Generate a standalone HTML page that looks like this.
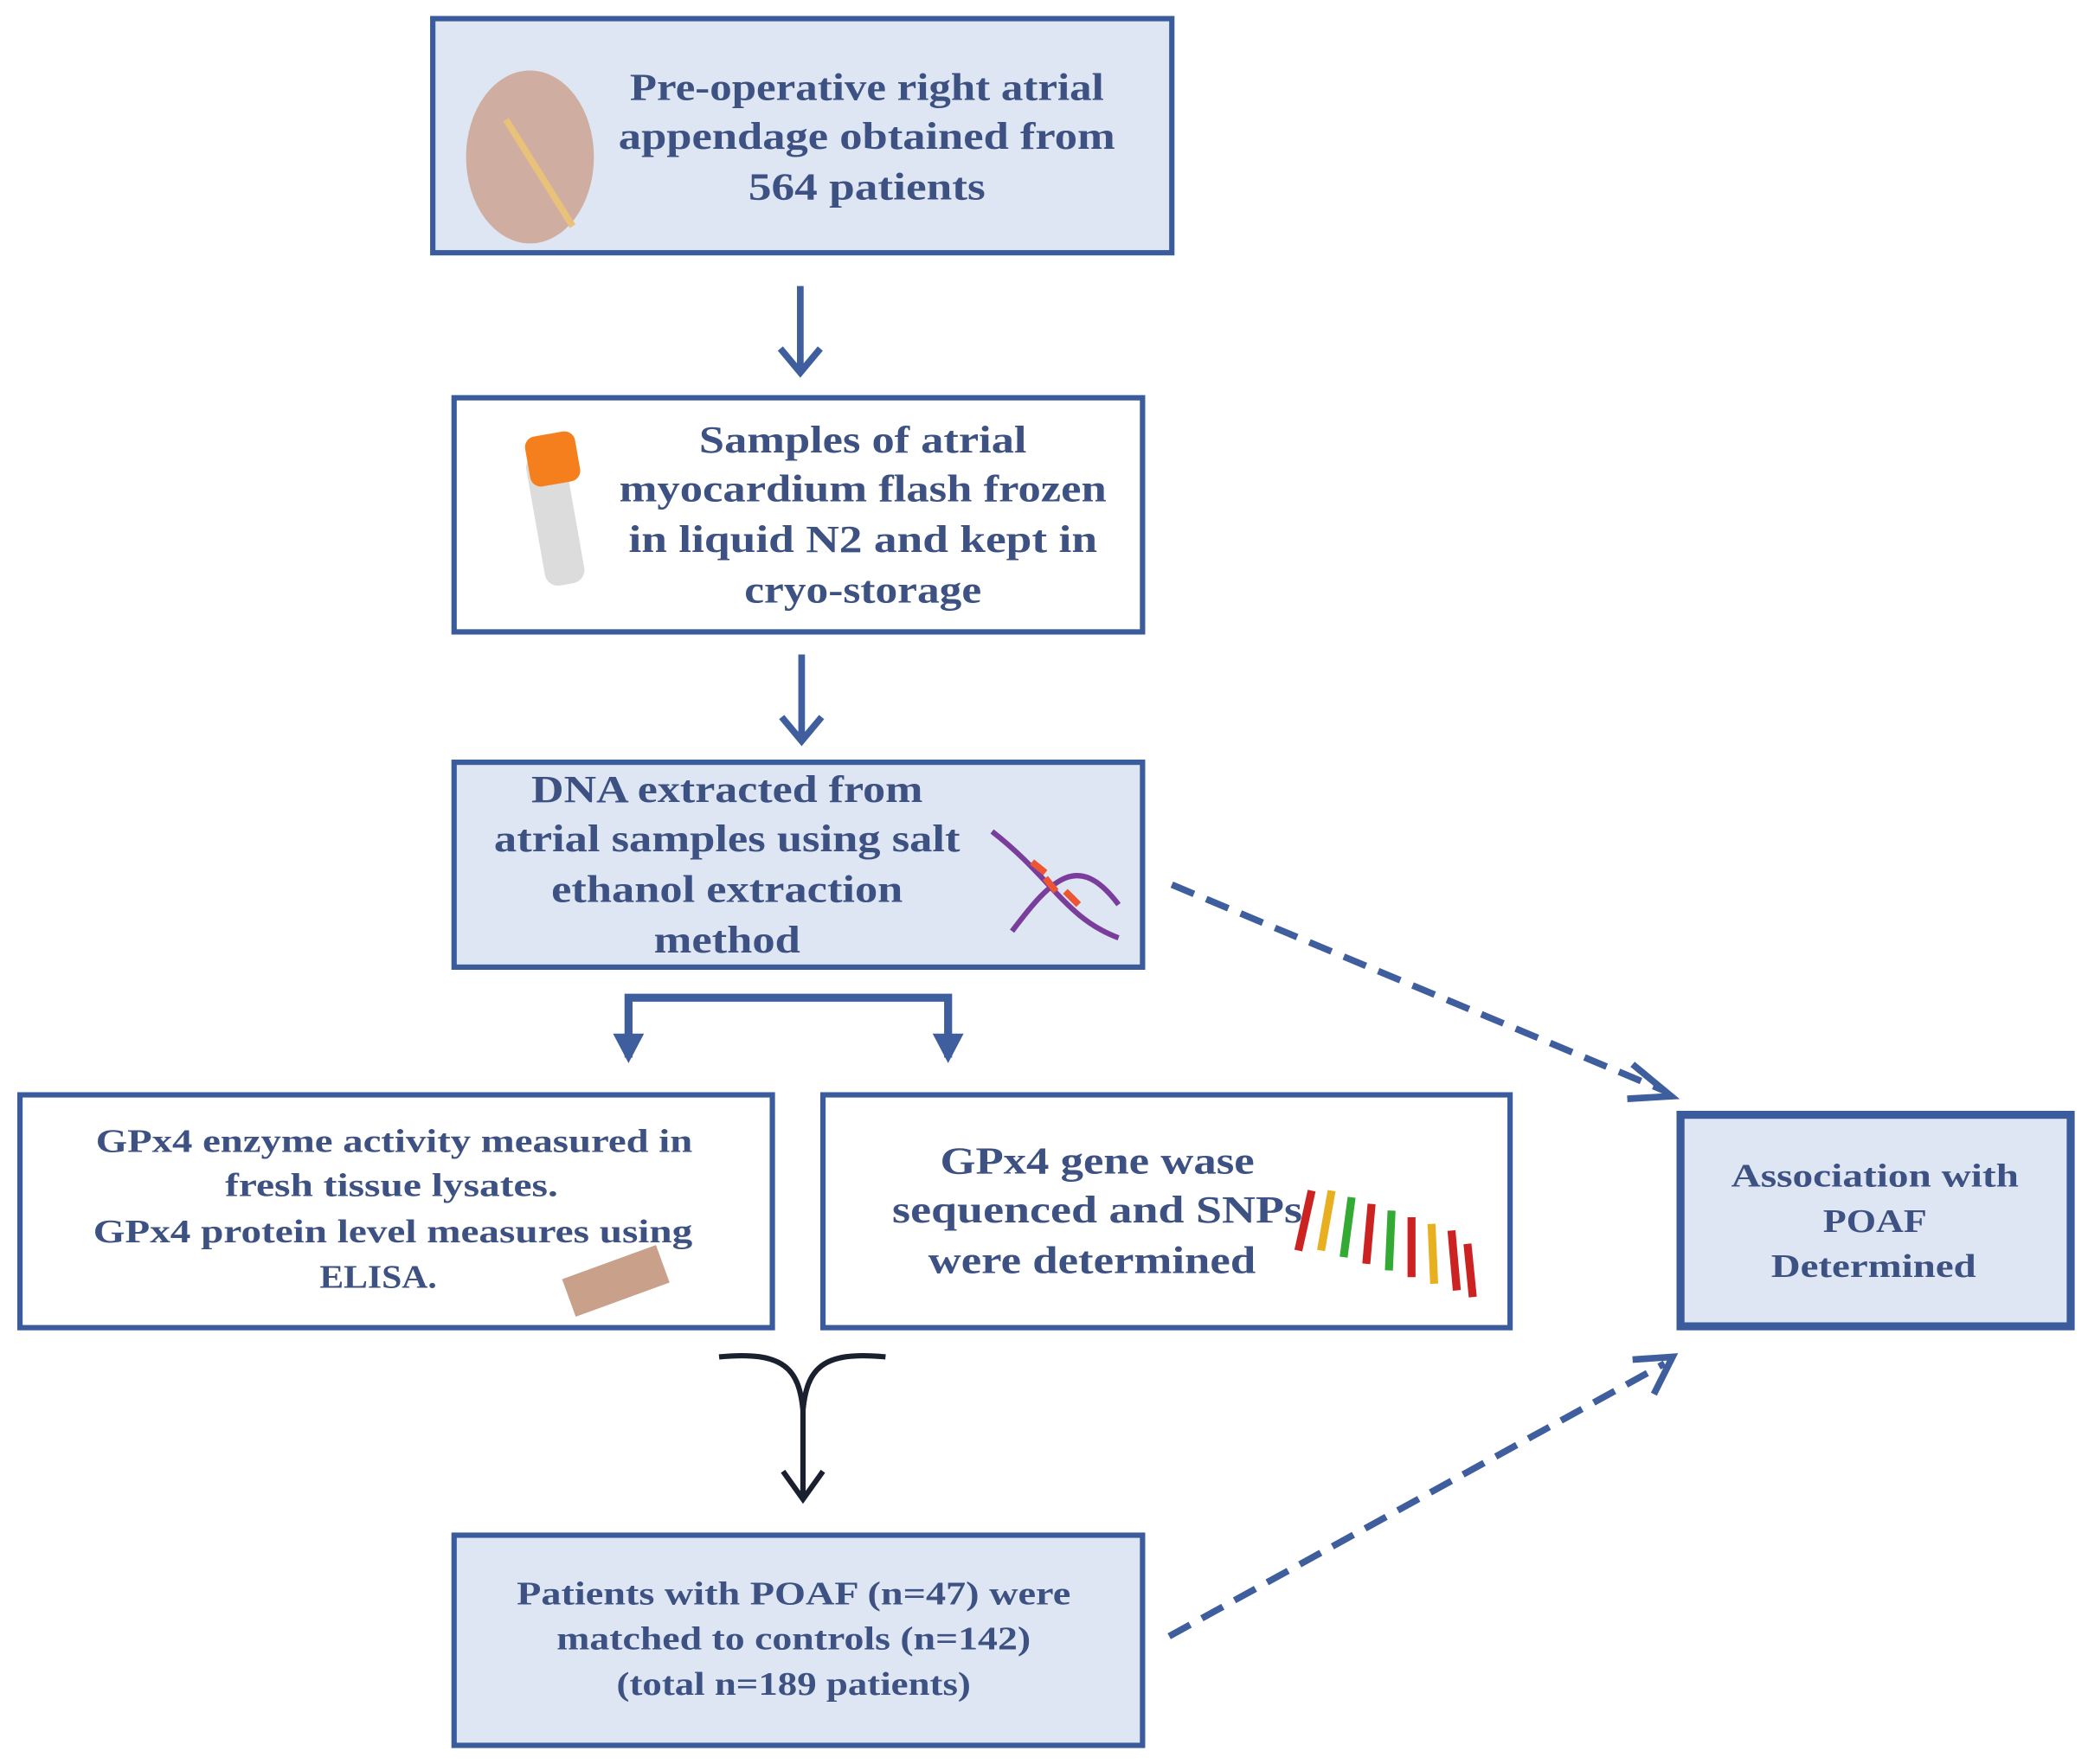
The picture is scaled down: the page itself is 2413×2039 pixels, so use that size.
<!DOCTYPE html>
<html><head><meta charset="utf-8"><style>
html,body{margin:0;padding:0;background:#fff;}
svg{display:block;}
text{font-family:"Liberation Serif",serif;font-weight:bold;fill:#3d5283;}
</style></head><body>
<svg width="2413" height="2039" viewBox="0 0 1568 1326" preserveAspectRatio="none" xmlns="http://www.w3.org/2000/svg">
<g stroke="#3a5b9c" stroke-width="4">
<rect x="325" y="14" width="555" height="176" fill="#dee6f4"/>
<rect x="341" y="299" width="517" height="176" fill="#fff"/>
<rect x="341" y="573" width="517" height="154" fill="#dee6f4"/>
<rect x="15" y="823" width="565" height="175" fill="#fff"/>
<rect x="618" y="823" width="516" height="175" fill="#fff"/>
<rect x="1262" y="838" width="293" height="159" fill="#dee6f4" stroke-width="6"/>
<rect x="341" y="1154" width="517" height="158" fill="#dee6f4"/>
</g>
<!-- icons -->
<ellipse cx="398" cy="118" rx="48" ry="65" fill="#c99a86" opacity="0.75"/>
<path d="M380 90 L430 170" stroke="#e8c27a" stroke-width="5"/>
<rect x="402" y="340" width="30" height="100" rx="10" fill="#dcdcdc" transform="rotate(-10 417 390)"/>
<rect x="396" y="326" width="38" height="38" rx="8" fill="#f57f1c" transform="rotate(-10 415 345)"/>
<path d="M745 625 C790 660 800 690 840 705 M760 700 C790 660 810 640 840 680" stroke="#7a3d9c" stroke-width="4" fill="none"/>
<path d="M775 648 l10 8 M785 660 l8 10 M800 670 l10 10" stroke="#e53" stroke-width="5"/>
<rect x="425" y="948" width="75" height="30" fill="#c9a08a" transform="rotate(-20 462 963)"/>
<g stroke-width="6">
<path d="M985 895 l-10 45" stroke="#c22"/><path d="M1000 895 l-8 45" stroke="#e8b020"/>
<path d="M1015 900 l-6 45" stroke="#3a3"/><path d="M1030 905 l-4 45" stroke="#c22"/>
<path d="M1045 910 l-2 45" stroke="#3a3"/><path d="M1060 915 l0 45" stroke="#c22"/>
<path d="M1075 920 l2 45" stroke="#e8b020"/><path d="M1090 925 l4 45" stroke="#c22"/>
<path d="M1102 935 l4 40" stroke="#c22"/>
</g>
<!-- arrows -->
<g stroke="#3f5e9e" stroke-width="5" fill="none">
<path d="M601 215 V280 M586 262 L601 280 L616 262"/>
<path d="M602 492 V557 M587 539 L602 557 L617 539"/>
<path d="M472 795 V750 H712 V795" stroke-width="6"/>
<path d="M462 778 L472 797 L482 778 Z M702 778 L712 797 L722 778 Z" fill="#3f5e9e" stroke-width="2"/>
<path d="M880 665 L1250 820" stroke-dasharray="18 10"/>
<path d="M1226 800 L1255 824 L1222 826"/>
<path d="M878 1230 L1250 1025" stroke-dasharray="18 10"/>
<path d="M1226 1022 L1256 1020 L1242 1048"/>
</g>
<path d="M540 1020 C590 1015 600 1030 603 1060 C606 1030 616 1015 665 1020 M603 1060 V1126 M588 1106 L603 1127 L618 1106" stroke="#1a2030" stroke-width="4" fill="none"/>
<!-- text -->
<g font-size="29" text-anchor="middle">
<text x="651" y="75" textLength="356" lengthAdjust="spacingAndGlyphs">Pre-operative right atrial</text>
<text x="651" y="112" textLength="373" lengthAdjust="spacingAndGlyphs">appendage obtained from</text>
<text x="651" y="150" textLength="178" lengthAdjust="spacingAndGlyphs">564 patients</text>
<text x="648" y="340" textLength="246" lengthAdjust="spacingAndGlyphs">Samples of atrial</text>
<text x="648" y="377" textLength="366" lengthAdjust="spacingAndGlyphs">myocardium flash frozen</text>
<text x="648" y="415" textLength="352" lengthAdjust="spacingAndGlyphs">in liquid N2 and kept in</text>
<text x="648" y="453" textLength="178" lengthAdjust="spacingAndGlyphs">cryo-storage</text>
<text x="546" y="603" textLength="294" lengthAdjust="spacingAndGlyphs">DNA extracted from</text>
<text x="546" y="640" textLength="350" lengthAdjust="spacingAndGlyphs">atrial samples using salt</text>
<text x="546" y="678" textLength="264" lengthAdjust="spacingAndGlyphs">ethanol extraction</text>
<text x="546" y="716" textLength="110" lengthAdjust="spacingAndGlyphs">method</text>
</g>
<g font-size="25" text-anchor="middle">
<text x="296" y="866" textLength="448" lengthAdjust="spacingAndGlyphs">GPx4 enzyme activity measured in</text>
<text x="294" y="899" textLength="250" lengthAdjust="spacingAndGlyphs">fresh tissue lysates.</text>
<text x="295" y="934" textLength="450" lengthAdjust="spacingAndGlyphs">GPx4 protein level measures using</text>
<text x="284" y="968" textLength="88" lengthAdjust="spacingAndGlyphs">ELISA.</text>
<text x="1408" y="892" textLength="216" lengthAdjust="spacingAndGlyphs">Association with</text>
<text x="1408" y="926" textLength="78" lengthAdjust="spacingAndGlyphs">POAF</text>
<text x="1407" y="960" textLength="154" lengthAdjust="spacingAndGlyphs">Determined</text>
<text x="596" y="1206" textLength="416" lengthAdjust="spacingAndGlyphs">Patients with POAF (n=47) were</text>
<text x="596" y="1240" textLength="356" lengthAdjust="spacingAndGlyphs">matched to controls (n=142)</text>
<text x="596" y="1274" textLength="266" lengthAdjust="spacingAndGlyphs">(total n=189 patients)</text>
</g>
<g font-size="29" text-anchor="middle">
<text x="824" y="882" textLength="236" lengthAdjust="spacingAndGlyphs">GPx4 gene wase</text>
<text x="824" y="919" textLength="308" lengthAdjust="spacingAndGlyphs">sequenced and SNPs</text>
<text x="820" y="957" textLength="246" lengthAdjust="spacingAndGlyphs">were determined</text>
</g>
</svg>
</body></html>
